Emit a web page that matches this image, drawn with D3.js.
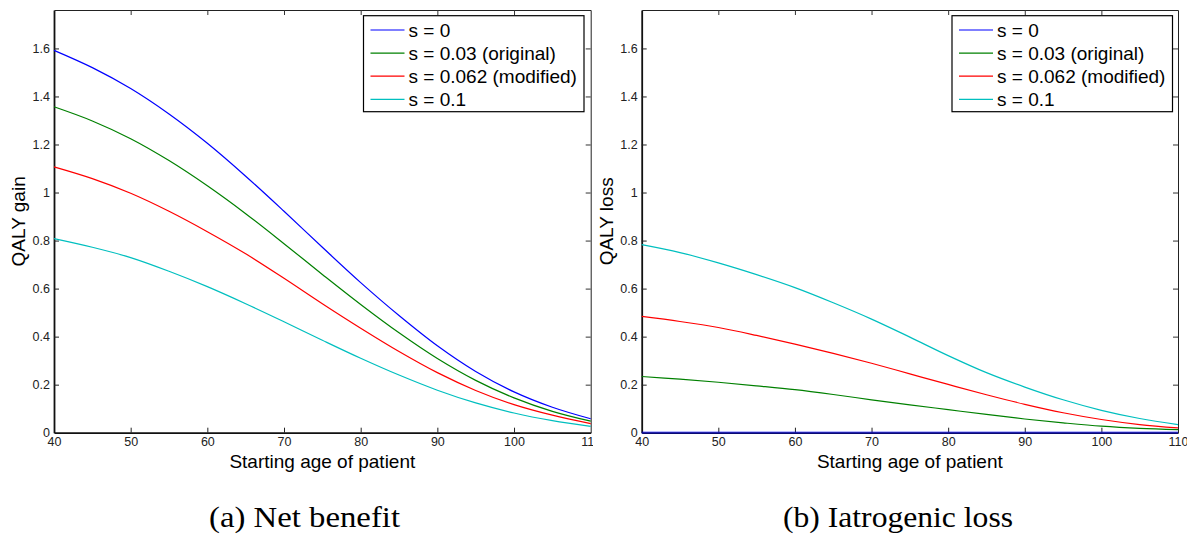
<!DOCTYPE html>
<html>
<head>
<meta charset="utf-8">
<script src="https://cdn.jsdelivr.net/npm/d3@7"></script>
<style>
  html, body { margin: 0; padding: 0; background: #fff; }
  svg { display: block; }
</style>
</head>
<body>
<svg id="chart" width="1187" height="536"></svg>
<script>
// ---------- data ----------
const ages = [40, 45, 50, 55, 60, 65, 70, 75, 80, 85, 90, 95, 100, 105, 110];

// (a) Net benefit: QALY gain
const gainS0    = [1.592, 1.520, 1.433, 1.327, 1.205, 1.068, 0.922, 0.772, 0.625, 0.488, 0.362, 0.255, 0.170, 0.106, 0.058];
const gainS003  = [1.357, 1.298, 1.224, 1.133, 1.028, 0.912, 0.787, 0.659, 0.534, 0.416, 0.309, 0.218, 0.145, 0.089, 0.048];
const gainS0062 = [1.107, 1.058, 0.997, 0.922, 0.837, 0.745, 0.643, 0.537, 0.435, 0.338, 0.250, 0.176, 0.117, 0.073, 0.038];
const gainS01   = [0.808, 0.772, 0.729, 0.672, 0.608, 0.537, 0.462, 0.385, 0.310, 0.240, 0.177, 0.124, 0.082, 0.050, 0.026];

// (b) Iatrogenic loss: QALY loss
const lossS0    = [0, 0, 0, 0, 0, 0, 0, 0, 0, 0, 0, 0, 0, 0, 0];
const lossS003  = [0.234, 0.223, 0.210, 0.195, 0.179, 0.159, 0.137, 0.116, 0.096, 0.076, 0.057, 0.041, 0.027, 0.018, 0.013];
const lossS0062 = [0.484, 0.463, 0.438, 0.405, 0.369, 0.330, 0.289, 0.245, 0.201, 0.158, 0.118, 0.083, 0.055, 0.034, 0.020];
const lossS01   = [0.783, 0.750, 0.707, 0.658, 0.604, 0.541, 0.473, 0.398, 0.321, 0.250, 0.190, 0.137, 0.093, 0.059, 0.034];

const seriesLabels = ["s = 0", "s = 0.03 (original)", "s = 0.062 (modified)", "s = 0.1"];
const seriesColors = ["#0000ff", "#008000", "#ff0000", "#00bfbf"];

const xTicks = [40, 50, 60, 70, 80, 90, 100, 110];
const yTicks = [0, 0.2, 0.4, 0.6, 0.8, 1, 1.2, 1.4, 1.6];
const xDomain = [40, 110];
const yDomain = [0, 1.76];

const xLabel = "Starting age of patient";
const panelYLabels = ["QALY gain", "QALY loss"];
const panelCaptions = ["(a) Net benefit", "(b) Iatrogenic loss"];

// ---------- drawing ----------
const svg = d3.select("#chart");
const sansFont = "'Liberation Sans', Arial, Helvetica, sans-serif";
const serifFont = "'Liberation Serif', 'Times New Roman', serif";

const panels = [
  { left: 54, right: 590.7, top: 10, bottom: 432.7, clipRight: 593,
    series: [gainS0, gainS003, gainS0062, gainS01], ylabel: panelYLabels[0], caption: panelCaptions[0],
    ylabelX: 18, captionX: 304.5, captionW: 191, legendX: 363.5 },
  { left: 641.7, right: 1178, top: 10, bottom: 432.7, clipRight: 1187,
    series: [lossS0, lossS003, lossS0062, lossS01], ylabel: panelYLabels[1], caption: panelCaptions[1],
    ylabelX: 606, captionX: 898, captionW: 230, legendX: 952 }
];

panels.forEach((p, pi) => {
  const clipId = "clip" + pi;
  svg.append("clipPath").attr("id", clipId)
    .append("rect").attr("x", p.left - 60).attr("y", 0)
    .attr("width", p.clipRight - (p.left - 60)).attr("height", 480);

  const g = svg.append("g").attr("clip-path", `url(#${clipId})`);

  const x = d3.scaleLinear().domain(xDomain).range([p.left, p.right]);
  const y = d3.scaleLinear().domain(yDomain).range([p.bottom, p.top]);

  // axes
  const fmt = d3.format("~g");
  const axL = g.append("g").attr("transform", `translate(${p.left},0)`)
    .call(d3.axisLeft(y).tickValues(yTicks).tickFormat(fmt).tickSizeInner(-5).tickSizeOuter(0).tickPadding(4));
  const axB = g.append("g").attr("transform", `translate(0,${p.bottom})`)
    .call(d3.axisBottom(x).tickValues(xTicks).tickFormat(fmt).tickSizeInner(-5).tickSizeOuter(0).tickPadding(4));
  const axT = g.append("g").attr("transform", `translate(0,${p.top})`)
    .call(d3.axisTop(x).tickValues(xTicks).tickFormat("").tickSizeInner(-5).tickSizeOuter(0));
  const axR = g.append("g").attr("transform", `translate(${p.right},0)`)
    .call(d3.axisRight(y).tickValues(yTicks).tickFormat("").tickSizeInner(-5).tickSizeOuter(0));

  [axL, axB].forEach(a => {
    a.select(".domain").attr("stroke", "#111").attr("stroke-width", 1.8);
    a.selectAll(".tick line").attr("stroke", "#222").attr("stroke-width", 1);
    a.selectAll("text").attr("font-family", sansFont).attr("font-size", 12.5).attr("fill", "#222");
  });
  [axT, axR].forEach(a => {
    a.select(".domain").attr("stroke", "#222").attr("stroke-width", 1);
    a.selectAll(".tick line").attr("stroke", "#333").attr("stroke-width", 1);
  });
  axB.selectAll(".tick").filter(d => d === 40 || d === 110).select("line").attr("opacity", 0);
  axT.selectAll(".tick").filter(d => d === 40 || d === 110).select("line").attr("opacity", 0);
  axL.selectAll(".tick").filter(d => d === 0).select("line").attr("opacity", 0);
  axR.selectAll(".tick").filter(d => d === 0).select("line").attr("opacity", 0);

  // lines
  const line = d3.line().x((d, i) => x(ages[i])).y(d => y(d)).curve(d3.curveCatmullRom.alpha(0.5));
  p.series.forEach((vals, si) => {
    const onAxis = d3.max(vals) === 0;
    g.append("path").datum(vals)
      .attr("fill", "none")
      .attr("stroke", seriesColors[si])
      .attr("stroke-opacity", onAxis ? 0.55 : 1)
      .attr("stroke-width", onAxis ? 2.2 : 1.2)
      .attr("d", line);
  });

  // legend
  const lg = g.append("g");
  const lx = p.legendX, ly = 15.7, lw = 220.5, lh = 96;
  lg.append("rect").attr("x", lx).attr("y", ly).attr("width", lw).attr("height", lh)
    .attr("fill", "#fff").attr("stroke", "#000").attr("stroke-width", 1.2);
  seriesLabels.forEach((lab, si) => {
    const cy = 30 + si * 23.1;
    lg.append("line").attr("x1", lx + 7).attr("x2", lx + 41).attr("y1", cy).attr("y2", cy)
      .attr("stroke", seriesColors[si]).attr("stroke-width", 1.2);
    lg.append("text").attr("x", lx + 45).attr("y", cy + 7)
      .attr("font-family", sansFont).attr("font-size", 19).attr("fill", "#000").text(lab);
  });

  // axis labels
  g.append("text").attr("x", (p.left + p.right) / 2).attr("y", 468)
    .attr("text-anchor", "middle").attr("font-family", sansFont).attr("font-size", 19).attr("fill", "#000")
    .text(xLabel);
  g.append("text").attr("transform", `translate(${p.ylabelX + 6.5},${(p.top + p.bottom) / 2}) rotate(-90)`)
    .attr("text-anchor", "middle").attr("font-family", sansFont).attr("font-size", 19).attr("fill", "#000")
    .text(p.ylabel);

  // caption
  svg.append("text").attr("x", p.captionX).attr("y", 527)
    .attr("text-anchor", "middle").attr("font-family", serifFont).attr("font-size", 30).attr("fill", "#000")
    .attr("textLength", p.captionW).attr("lengthAdjust", "spacingAndGlyphs")
    .text(p.caption);
});
</script>
</body>
</html>
